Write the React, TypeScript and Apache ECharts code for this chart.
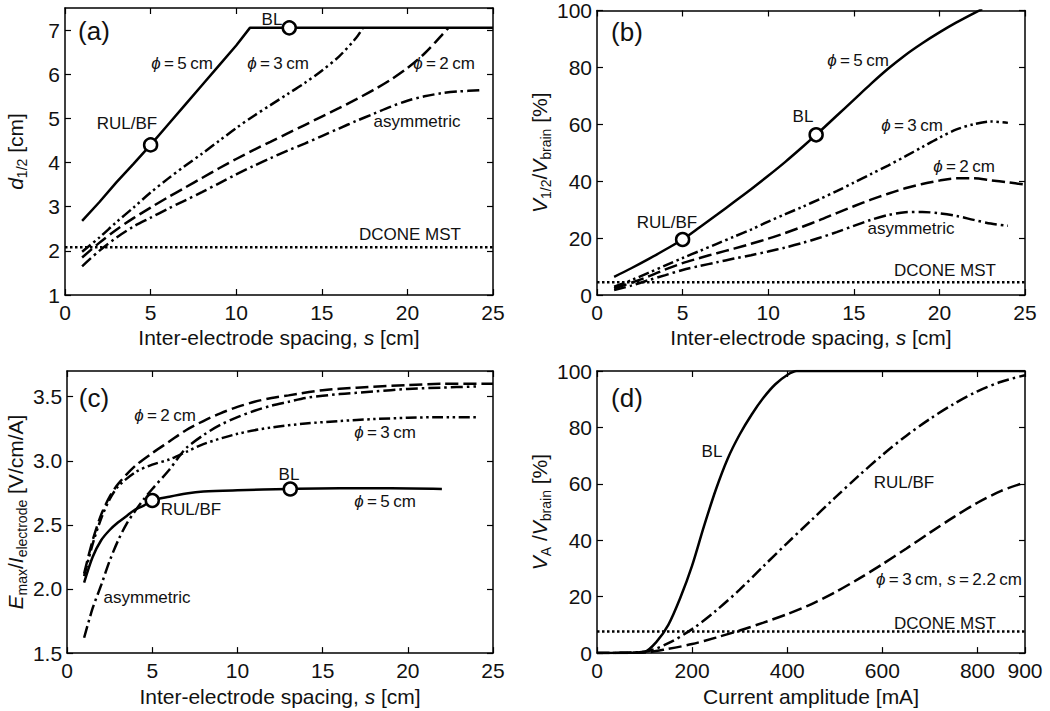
import React, { useEffect, useRef } from 'react';
import * as echarts from 'echarts';

const FONT = '"Liberation Sans", Arial, Helvetica, sans-serif';
const INK = '#111';

// ---------- Panel (a): d1/2 vs inter-electrode spacing ----------
const aX5 = [1, 2, 3, 4, 5, 6, 7, 8, 9, 10, 10.8, 25];
const aY5 = [2.68, 3.1, 3.55, 3.97, 4.4, 4.85, 5.3, 5.75, 6.2, 6.65, 7.05, 7.05];
const aX3 = [1, 2, 3, 4, 5, 6, 7, 8, 9, 10, 11, 12, 13, 14, 15, 16, 17, 17.4];
const aY3 = [1.98, 2.3, 2.65, 2.98, 3.32, 3.63, 3.92, 4.2, 4.49, 4.78, 5.05, 5.3, 5.55, 5.8, 6.08, 6.4, 6.82, 7.05];
const aX2 = [1, 2, 3, 4, 5, 6, 7, 8, 9, 10, 11, 12, 13, 14, 15, 16, 17, 18, 19, 20, 21, 22, 22.4];
const aY2 = [1.85, 2.18, 2.48, 2.74, 2.98, 3.21, 3.43, 3.65, 3.87, 4.08, 4.28, 4.47, 4.66, 4.85, 5.04, 5.23, 5.43, 5.64, 5.87, 6.14, 6.47, 6.88, 7.05];
const aXA = [1, 2, 3, 4, 5, 6, 7, 8, 9, 10, 11, 12, 13, 14, 15, 16, 17, 18, 19, 20, 21, 22, 23, 24.3];
const aYA = [1.65, 2.0, 2.3, 2.55, 2.75, 2.95, 3.14, 3.33, 3.53, 3.73, 3.92, 4.1, 4.27, 4.43, 4.6, 4.77, 4.94, 5.1, 5.26, 5.4, 5.5, 5.57, 5.61, 5.64];
const aDcone = 2.08;
const aMarkX = [5, 13.1];
const aMarkY = [4.4, 7.05];

// ---------- Panel (b): V1/2/Vbrain ----------
const bX5 = [1, 2, 3, 4, 5, 6, 7, 8, 9, 10, 11, 12, 13, 14, 15, 16, 17, 18, 19, 20, 21, 22, 22.5];
const bY5 = [6.4, 9.4, 12.6, 16, 19.5, 23.8, 28.2, 32.7, 37.2, 41.9, 46.8, 52, 57.4, 63, 68.6, 74.2, 79.5, 84.3, 88.5, 92.3, 95.8, 99, 100.5];
const bX3 = [1, 2, 3, 4, 5, 6, 7, 8, 9, 10, 11, 12, 13, 14, 15, 16, 17, 18, 19, 20, 21, 22, 23, 24];
const bY3 = [2.9, 5.2, 7.8, 10.4, 13, 15.5, 18, 20.5, 23, 25.8, 28.4, 31, 33.7, 36.5, 39.5, 42.5, 45.5, 48.7, 52, 55.3, 58.2, 60, 61, 60.5];
const bX2 = [1, 2, 3, 4, 5, 6, 7, 8, 9, 10, 11, 12, 13, 14, 15, 16, 17, 18, 19, 20, 21, 22, 23, 24, 25];
const bY2 = [2.3, 4.3, 6.5, 9, 11.2, 13, 14.7, 16.3, 18, 19.8, 21.8, 24, 26.3, 28.8, 31.2, 33.5, 35.6, 37.5, 39, 40.2, 41, 41, 40.3, 39.6, 38.8];
const bXA = [1, 2, 3, 4, 5, 6, 7, 8, 9, 10, 11, 12, 13, 14, 15, 16, 17, 18, 19, 20, 21, 22, 23, 24];
const bYA = [1.7, 3.3, 5.2, 7, 8.8, 10.2, 11.5, 12.8, 14, 15.3, 16.7, 18.3, 20.1, 22.1, 24.3, 26.4, 28.1, 29.1, 29.2, 28.7, 27.8, 26.4, 25.1, 24.3];
const bDcone = 4.5;
const bMarkX = [5, 12.8];
const bMarkY = [19.5, 56.3];

// ---------- Panel (c): Emax/Ielectrode ----------
const cX5 = [1, 1.5, 2, 2.5, 3, 3.5, 4, 4.5, 5, 6, 7, 8, 10, 13, 16, 19, 22];
const cY5 = [2.05, 2.25, 2.38, 2.46, 2.52, 2.57, 2.62, 2.65, 2.69, 2.72, 2.745, 2.76, 2.77, 2.78, 2.785, 2.785, 2.78];
const cX3 = [1, 1.5, 2, 2.5, 3, 4, 5, 6, 7, 8, 10, 12, 14, 16, 18, 20, 22, 24];
const cY3 = [2.1, 2.35, 2.55, 2.7, 2.8, 2.91, 2.97, 3.01, 3.07, 3.13, 3.21, 3.26, 3.29, 3.31, 3.325, 3.335, 3.34, 3.34];
const cX2 = [1, 1.5, 2, 2.5, 3, 4, 5, 6, 7, 8, 9, 10, 11, 12, 13, 15, 17, 20, 22, 25];
const cY2 = [2.12, 2.38, 2.58, 2.72, 2.82, 2.96, 3.06, 3.15, 3.24, 3.31, 3.37, 3.42, 3.46, 3.49, 3.51, 3.55, 3.57, 3.59, 3.6, 3.6];
const cXA = [1, 1.5, 2, 2.5, 3, 3.5, 4, 4.5, 5, 6, 6.5, 7, 8, 9, 10, 11, 12, 13, 14, 16, 18, 20, 22, 24];
const cYA = [1.62, 1.85, 2.03, 2.22, 2.38, 2.51, 2.61, 2.7, 2.78, 2.93, 3.02, 3.1, 3.2, 3.28, 3.34, 3.39, 3.43, 3.46, 3.49, 3.52, 3.54, 3.56, 3.57, 3.58];
const cMarkX = [5, 13.1];
const cMarkY = [2.69, 2.78];

// ---------- Panel (d): VA/Vbrain vs current ----------
const dXB = [0, 50, 100, 125, 150, 175, 200, 225, 250, 275, 300, 325, 350, 375, 400, 420, 900];
const dYB = [0, 0.1, 0.5, 4, 10, 19.5, 31, 45, 58, 69, 77.5, 84.5, 90.5, 95.3, 98.6, 100, 100];
const dXR = [0, 100, 150, 200, 250, 300, 350, 400, 450, 500, 550, 600, 650, 700, 750, 800, 850, 900];
const dYR = [0, 0.5, 3.5, 8.5, 15, 22.5, 30.8, 39, 47, 55, 62.8, 70.2, 77, 83, 88.3, 92.8, 96.2, 98.5];
const dXD = [0, 100, 150, 200, 250, 300, 350, 400, 450, 500, 550, 600, 650, 700, 750, 800, 850, 900];
const dYD = [0, 0.2, 1.5, 3.2, 5.5, 8, 10.8, 13.8, 17.3, 21.5, 26.3, 31.5, 37, 42.7, 48.2, 53.3, 57.5, 60.5];
const dDcone = 7.7;

const zip = (xs: number[], ys: number[]) => xs.map((x, i) => [x, ys[i]]);

const DASH = [13, 5];
const DASHDOT = [12, 4, 2.5, 4];
const DASHDOTDOT = [11, 3.5, 2.5, 3.5, 2.5, 3.5];
const DOT = [2.5, 2.5];

const GRIDS = [
  { left: 65, top: 8, width: 428, height: 287 },
  { left: 597, top: 8, width: 428, height: 287 },
  { left: 65, top: 371, width: 428, height: 286 },
  { left: 597, top: 371, width: 428, height: 286 },
];

const TICK_FS = 21;
const NAME_FS = 21;

const RICH = {
  i: { fontStyle: 'italic', fontSize: NAME_FS, fontFamily: FONT, color: INK, lineHeight: 28 },
  n: { fontSize: NAME_FS, fontFamily: FONT, color: INK, lineHeight: 28 },
  sub: { fontSize: 14, fontFamily: FONT, color: INK, lineHeight: 14, verticalAlign: 'bottom' },
};

const axisLine = { show: true, onZero: false, lineStyle: { color: '#000', width: 1.5 } };
const axisTick = { show: true, inside: true, length: 6, lineStyle: { color: '#000', width: 1.2 } };

function makeAxes(
  k: number,
  x: { min: number; max: number; interval: number },
  y: { min: number; max: number; interval: number },
  xName: string,
  yName: string,
  xGap: number,
  yFmt?: (v: number) => string,
  showMaxY = true,
) {
  const nameStyle = { fontSize: NAME_FS, fontFamily: FONT, color: INK, lineHeight: 28, rich: RICH };
  const xs = [
    {
      type: 'value', gridIndex: k, position: 'bottom', min: x.min, max: x.max, interval: x.interval,
      axisLine, axisTick, splitLine: { show: false },
      axisLabel: { fontSize: TICK_FS, fontFamily: FONT, color: INK, margin: 7, showMaxLabel: true, showMinLabel: true },
      name: xName, nameLocation: 'middle', nameGap: xGap, nameTextStyle: nameStyle,
    },
    {
      type: 'value', gridIndex: k, position: 'top', min: x.min, max: x.max, interval: x.interval,
      axisLine, axisTick, splitLine: { show: false }, axisLabel: { show: false },
    },
  ];
  const ys = [
    {
      type: 'value', gridIndex: k, position: 'left', min: y.min, max: y.max, interval: y.interval,
      axisLine, axisTick, splitLine: { show: false },
      axisLabel: {
        fontSize: TICK_FS, fontFamily: FONT, color: INK, margin: 5, showMaxLabel: showMaxY, showMinLabel: true,
        formatter: yFmt ? (v: number) => yFmt(v) : undefined,
      },
      name: yName, nameLocation: 'middle', nameRotate: 90, nameGap: 36, nameTextStyle: nameStyle,
    },
    {
      type: 'value', gridIndex: k, position: 'right', min: y.min, max: y.max, interval: y.interval,
      axisLine, axisTick, splitLine: { show: false }, axisLabel: { show: false },
    },
  ];
  return { xs, ys };
}

function line(k: number, data: number[][], type: any, smooth = true, width = 2.5) {
  return {
    type: 'line', xAxisIndex: 2 * k, yAxisIndex: 2 * k, data,
    showSymbol: false, symbol: 'none', smooth: smooth ? 0.3 : false,
    lineStyle: { color: '#000', width, type, cap: 'butt' }, clip: true, z: 3,
  };
}

function marks(k: number, xs: number[], ys: number[]) {
  return {
    type: 'scatter', xAxisIndex: 2 * k, yAxisIndex: 2 * k, data: zip(xs, ys),
    symbol: 'circle', symbolSize: 13,
    itemStyle: { color: '#fff', borderColor: '#000', borderWidth: 2.5, opacity: 1 }, z: 6,
  };
}

const ANN_RICH = {
  i: { fontStyle: 'italic', fontSize: 17, fontFamily: FONT, color: INK },
};

function txt(x: number, y: number, text: string, size = 17) {
  return {
    type: 'text', x, y, z: 10,
    style: {
      text, fontSize: size, fontFamily: FONT, fill: INK,
      align: 'center', verticalAlign: 'middle', textAlign: 'center', textVerticalAlign: 'middle',
      rich: ANN_RICH,
    },
  };
}

const phi = (v: string) => `{i|ϕ}\u2009=\u2009${v}\u2009cm`;

export default function App() {
  const ref = useRef<HTMLDivElement>(null);
  useEffect(() => {
    if (!ref.current) return;
    const chart = echarts.init(ref.current, undefined, { renderer: 'svg' });

    const A = makeAxes(0, { min: 0, max: 25, interval: 5 }, { min: 1, max: 7.5, interval: 1 },
      '{n|Inter-electrode spacing, }{i|s}{n| [cm]}', '{i|d}{sub|1/2}{n| [cm]}', 20, undefined, false);
    const B = makeAxes(1, { min: 0, max: 25, interval: 5 }, { min: 0, max: 100, interval: 20 },
      '{n|Inter-electrode spacing, }{i|s}{n| [cm]}', '{i|V}{sub|1/2}{n|/}{i|V}{sub|brain}{n| [%]}', 20);
    const C = makeAxes(2, { min: 0, max: 25, interval: 5 }, { min: 1.5, max: 3.7, interval: 0.5 },
      '{n|Inter-electrode spacing, }{i|s}{n| [cm]}', '{i|E}{sub|max}{n|/}{i|I}{sub|electrode}{n| [V/cm/A]}', 25,
      (v) => v.toFixed(1), false);
    const D = makeAxes(3, { min: 0, max: 900, interval: 200 }, { min: 0, max: 100, interval: 20 },
      '{n|Current amplitude [mA]}', '{i|V}{sub|A}{n| /}{i|V}{sub|brain}{n| [%]}', 25);

    const option = {
      animation: false,
      backgroundColor: '#fff',
      textStyle: { fontFamily: FONT },
      grid: GRIDS,
      xAxis: [...A.xs, ...B.xs, ...C.xs, ...D.xs],
      yAxis: [...A.ys, ...B.ys, ...C.ys, ...D.ys],
      series: [
        // (a)
        line(0, zip(aX5, aY5), 'solid', false),
        line(0, zip(aX3, aY3), DASHDOTDOT),
        line(0, zip(aX2, aY2), DASH),
        line(0, zip(aXA, aYA), DASHDOT),
        line(0, [[0, aDcone], [25, aDcone]], DOT, false, 2.5),
        marks(0, aMarkX, aMarkY),
        // (b)
        line(1, zip(bX5, bY5), 'solid'),
        line(1, zip(bX3, bY3), DASHDOTDOT),
        line(1, zip(bX2, bY2), DASH),
        line(1, zip(bXA, bYA), DASHDOT),
        line(1, [[0, bDcone], [25, bDcone]], DOT, false, 2.5),
        marks(1, bMarkX, bMarkY),
        // (c)
        line(2, zip(cX5, cY5), 'solid'),
        line(2, zip(cX3, cY3), DASHDOTDOT),
        line(2, zip(cX2, cY2), DASH),
        line(2, zip(cXA, cYA), DASHDOT),
        marks(2, cMarkX, cMarkY),
        // (d)
        line(3, zip(dXB, dYB), 'solid'),
        line(3, zip(dXR, dYR), DASHDOT),
        line(3, zip(dXD, dYD), DASH),
        line(3, [[0, dDcone], [900, dDcone]], DOT, false, 2.5),
      ],
      graphic: [
        // (a)
        txt(94, 31, '(a)', 26),
        txt(272, 19, 'BL'),
        txt(182, 63, phi('5')),
        txt(278, 63, phi('3')),
        txt(444, 63, phi('2')),
        txt(127, 123, 'RUL/BF'),
        txt(417, 121, 'asymmetric'),
        txt(410, 234, 'DCONE MST'),
        // (b)
        txt(627, 32, '(b)', 26),
        txt(858, 60, phi('5')),
        txt(803, 116, 'BL'),
        txt(912, 125, phi('3')),
        txt(964, 166, phi('2')),
        txt(667, 222, 'RUL/BF'),
        txt(911, 228, 'asymmetric'),
        txt(945, 270, 'DCONE MST'),
        // (c)
        txt(94, 398, '(c)', 26),
        txt(165, 415, phi('2')),
        txt(385, 432, phi('3')),
        txt(289, 474, 'BL'),
        txt(385, 501, phi('5')),
        txt(191, 509, 'RUL/BF'),
        txt(147, 597, 'asymmetric'),
        // (d)
        txt(627, 398, '(d)', 26),
        txt(712, 451, 'BL'),
        txt(904, 482, 'RUL/BF'),
        txt(949, 579, `{i|ϕ}\u2009=\u20093\u2009cm, {i|s}\u2009=\u20092.2\u2009cm`),
        txt(945, 623, 'DCONE MST'),
      ],
    };
    chart.setOption(option as any);
    return () => chart.dispose();
  }, []);
  return (
    <div
      ref={ref}
      style={{ position: 'absolute', left: 0, top: 0, width: 1050, height: 711, background: '#fff' }}
    />
  );
}
